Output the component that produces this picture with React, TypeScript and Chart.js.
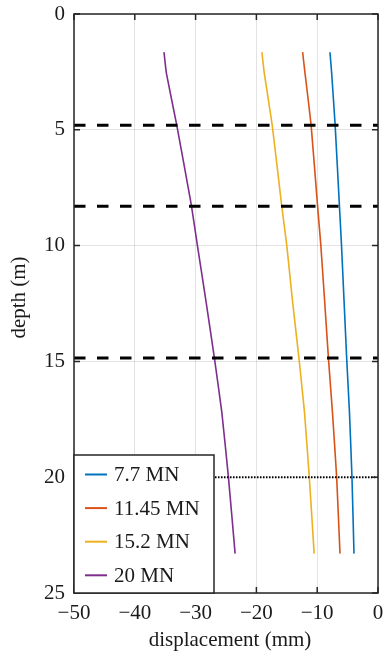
import React, { useEffect, useRef } from "react";
import { Chart, registerables } from "chart.js";
Chart.register(...registerables);

// depth (m) sample points along the pile
const depths = [1.65, 2.56, 4.8, 8.25, 10, 12.3, 14.87, 17.17, 20, 23.3];
// displacement (mm) for each load
const disp7_7 = [-7.9, -7.62, -7.05, -6.35, -6.0, -5.6, -5.15, -4.7, -4.28, -3.95];
const disp11_45 = [-12.4, -12.0, -11.0, -9.95, -9.4, -8.8, -8.15, -7.5, -6.8, -6.25];
const disp15_2 = [-19.1, -18.7, -17.4, -15.85, -15.0, -14.1, -13.0, -12.1, -11.3, -10.5];
const disp20 = [-35.2, -34.8, -33.1, -30.7, -29.7, -28.35, -26.9, -25.7, -24.6, -23.5];

const seriesLabels = ["7.7 MN", "11.45 MN", "15.2 MN", "20 MN"];
const seriesValues = [disp7_7, disp11_45, disp15_2, disp20];
const seriesColors = ["#0072BD", "#D95319", "#EDB120", "#7E2F8E"];

// layer boundaries (dashed) and pile toe level (dotted)
const dashedDepths = [4.8, 8.3, 14.85];
const dottedDepths = [20];

const xRange = [-50, 0];
const yRange = [0, 25];
const xStep = 10;
const yStep = 5;

const xTitle = "displacement (mm)";
const yTitle = "depth (m)";

const FONT = "'Liberation Serif', 'Times New Roman', serif";
const TEXT = "#1a1a1a";
const AXIS = "#262626";

const framePlugin = {
  id: "matlabFrame",
  afterDatasetsDraw(chart: any) {
    const { ctx, chartArea: a, scales } = chart;
    const xs = scales.x;
    const ys = scales.y;
    ctx.save();
    ctx.strokeStyle = AXIS;
    ctx.lineWidth = 1.5;
    ctx.strokeRect(a.left, a.top, a.right - a.left, a.bottom - a.top);
    const tl = 6;
    ctx.beginPath();
    xs.ticks.forEach((t: any) => {
      const px = xs.getPixelForValue(t.value);
      ctx.moveTo(px, a.top);
      ctx.lineTo(px, a.top + tl);
      ctx.moveTo(px, a.bottom);
      ctx.lineTo(px, a.bottom - tl);
    });
    ys.ticks.forEach((t: any) => {
      const py = ys.getPixelForValue(t.value);
      ctx.moveTo(a.left, py);
      ctx.lineTo(a.left + tl, py);
      ctx.moveTo(a.right, py);
      ctx.lineTo(a.right - tl, py);
    });
    ctx.stroke();

    const items = chart.data.datasets.filter((d: any) => d.inLegend);
    const w = 140;
    const h = 138;
    const lx = a.left;
    const ly = a.bottom - h;
    ctx.fillStyle = "#ffffff";
    ctx.fillRect(lx, ly, w, h);
    ctx.strokeStyle = AXIS;
    ctx.lineWidth = 1.5;
    ctx.strokeRect(lx, ly, w, h);
    ctx.font = `21px ${FONT}`;
    ctx.textBaseline = "middle";
    ctx.textAlign = "left";
    items.forEach((d: any, i: number) => {
      const yy = ly + 19.5 + i * 33.6;
      ctx.strokeStyle = d.borderColor;
      ctx.lineWidth = 2;
      ctx.beginPath();
      ctx.moveTo(lx + 11, yy);
      ctx.lineTo(lx + 33, yy);
      ctx.stroke();
      ctx.fillStyle = TEXT;
      ctx.fillText(d.label, lx + 40, yy + 1);
    });
    ctx.restore();
  },
  afterDraw(chart: any) {
    const { ctx } = chart;
    ctx.save();
    ctx.fillStyle = TEXT;
    ctx.font = `21px ${FONT}`;
    ctx.textAlign = "center";
    ctx.textBaseline = "middle";
    ctx.fillText(xTitle, 230, 640);
    ctx.translate(19, 297.5);
    ctx.rotate(-Math.PI / 2);
    ctx.fillText(yTitle, 0, 0);
    ctx.restore();
  },
};

export default function App() {
  const ref = useRef<HTMLCanvasElement | null>(null);
  useEffect(() => {
    if (!ref.current) return;
    const datasets: any[] = [];
    seriesValues.forEach((vals, i) => {
      datasets.push({
        label: seriesLabels[i],
        inLegend: true,
        data: vals.map((v, j) => ({ x: v, y: depths[j] })),
        borderColor: seriesColors[i],
        backgroundColor: seriesColors[i],
        borderWidth: 1.6,
        pointRadius: 0,
        tension: 0.12,
        fill: false,
        order: 2,
      });
    });
    dashedDepths.forEach((d) => {
      datasets.push({
        label: "layer",
        data: [
          { x: xRange[0], y: d },
          { x: xRange[1], y: d },
        ],
        borderColor: "#000000",
        borderWidth: 3,
        borderDash: [11.5, 11.5],
        pointRadius: 0,
        fill: false,
        order: 1,
      });
    });
    dottedDepths.forEach((d) => {
      datasets.push({
        label: "toe",
        data: [
          { x: xRange[0], y: d },
          { x: xRange[1], y: d },
        ],
        borderColor: "#000000",
        borderWidth: 2,
        borderDash: [1.5, 1.5],
        pointRadius: 0,
        fill: false,
        order: 1,
      });
    });

    const tickFont = { family: FONT, size: 21 };
    const zeroPad = (s: any) => {
      s.paddingLeft = 0;
      s.paddingRight = 0;
      s.paddingTop = 0;
      s.paddingBottom = 0;
    };
    const chart = new Chart(ref.current, {
      type: "line",
      data: { datasets },
      plugins: [framePlugin],
      options: {
        animation: false,
        responsive: false,
        devicePixelRatio: 1,
        layout: { padding: { left: 0, top: 14, right: 5, bottom: 0 } },
        plugins: {
          legend: { display: false },
          tooltip: { enabled: false },
          title: { display: false },
        },
        scales: {
          x: {
            type: "linear",
            position: "bottom",
            min: xRange[0],
            max: xRange[1],
            ticks: {
              stepSize: xStep,
              font: tickFont,
              color: TEXT,
              padding: 8,
              maxRotation: 0,
              autoSkip: false,
              callback: (v: any) => (Number(v) < 0 ? "\u2212" + Math.abs(Number(v)) : String(v)),
            },
            grid: { color: "rgba(38,38,38,0.13)", lineWidth: 1, drawTicks: false },
            border: { display: false },
            afterFit: (s: any) => {
              s.height = 61;
              zeroPad(s);
            },
          },
          y: {
            type: "linear",
            reverse: true,
            min: yRange[0],
            max: yRange[1],
            ticks: {
              stepSize: yStep,
              font: tickFont,
              color: TEXT,
              padding: 9,
              autoSkip: false,
            },
            grid: { color: "rgba(38,38,38,0.13)", lineWidth: 1, drawTicks: false },
            border: { display: false },
            afterFit: (s: any) => {
              s.width = 74;
              zeroPad(s);
            },
          },
        },
      } as any,
    });
    return () => chart.destroy();
  }, []);

  return (
    <div style={{ position: "absolute", left: 0, top: 0, width: 383, height: 654 }}>
      <canvas ref={ref} width={383} height={654} style={{ display: "block", width: 383, height: 654 }} />
    </div>
  );
}
